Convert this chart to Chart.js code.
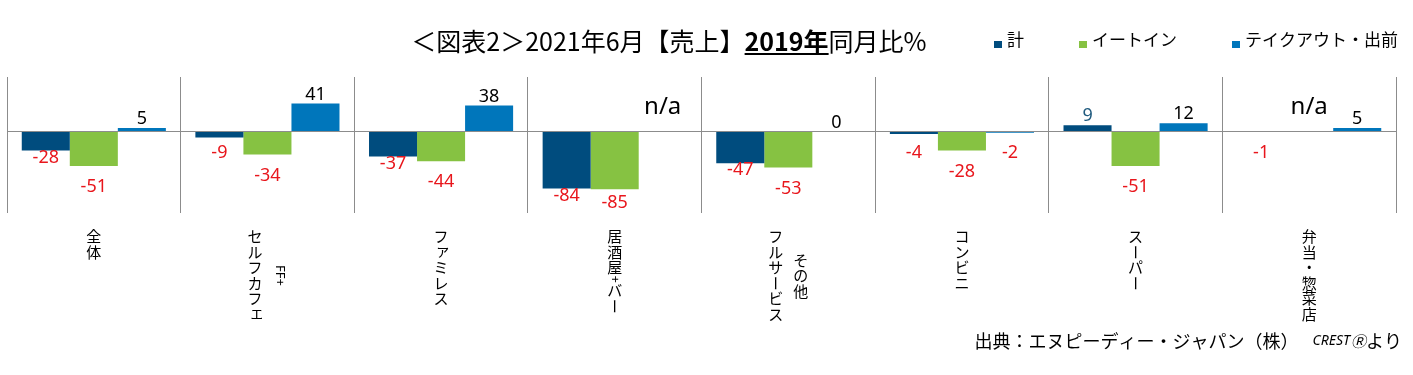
<!DOCTYPE html>
<html lang="ja">
<head>
<meta charset="utf-8">
<script src="https://cdn.jsdelivr.net/npm/chart.js@4.4.1/dist/chart.umd.min.js"></script>
<style>
  html, body { margin: 0; padding: 0; background: #fff; }
</style>
</head>
<body>
<canvas id="salesChart" width="1413" height="375"></canvas>
<script>
// data (n/a = null)
const categories = ["全体", "FF+\nセルフカフェ", "ファミレス", "居酒屋+バー", "その他\nフルサービス", "コンビニ", "スーパー", "弁当・惣菜店"];
const seriesNames = ["計", "イートイン", "テイクアウト・出前"];
const totalValues = [-28, -9, -37, -84, -47, -4, 9, -1];
const eatInValues = [-51, -34, -44, -85, -53, -28, -51, null];
const takeoutValues = [5, 41, 38, null, 0, -2, 12, 5];
const yRange = [-120, 80];
const titleParts = [
  { text: "＜図表2＞2021年6月【売上】" },
  { text: "2019年", bold: true, underline: true },
  { text: "同月比%" }
];
const sourceText = ["出典：エヌピーディー・ジャパン（株）", "CREST", "Ⓡ", "より"];

const colors = ["#004C7E", "#86C242", "#0076BB"];
const gridColor = "#8C8C8C";
const redLabel = "#E8161C";
const JP = '"Noto Sans CJK JP", "Noto Sans", sans-serif';
const LATIN = '"Noto Sans", sans-serif';

const smallKana = "ァィゥェォッャュョヮヵヶぁぃぅぇぉっゃゅょゎ";
const turnChars = "ー～〜";

// length of one vertical line of text
function verticalLength(ctx, line, size, adv) {
  let len = 0;
  let i = 0;
  while (i < line.length) {
    if (/[\x20-\x7e]/.test(line[i])) {
      let run = "";
      while (i < line.length && /[\x20-\x7e]/.test(line[i])) run += line[i++];
      ctx.font = Math.round(size * 0.85) + "px " + LATIN;
      len += ctx.measureText(run).width;
    } else {
      len += adv;
      i++;
    }
  }
  return len;
}

function drawVerticalLine(ctx, line, cx, top, size, adv) {
  let y = top;
  let i = 0;
  ctx.textAlign = "center";
  ctx.textBaseline = "middle";
  while (i < line.length) {
    const ch = line[i];
    if (/[\x20-\x7e]/.test(ch)) {
      // latin runs are turned sideways, like Excel stacked text
      let run = "";
      while (i < line.length && /[\x20-\x7e]/.test(line[i])) run += line[i++];
      ctx.font = Math.round(size * 0.85) + "px " + LATIN;
      const w = ctx.measureText(run).width;
      ctx.save();
      ctx.translate(cx, y + w / 2);
      ctx.rotate(Math.PI / 2);
      ctx.fillText(run, 0, 0);
      ctx.restore();
      y += w;
      continue;
    }
    ctx.font = size + "px " + JP;
    ctx.save();
    if (turnChars.includes(ch)) {
      ctx.translate(cx, y + adv / 2);
      ctx.rotate(Math.PI / 2);
      ctx.fillText(ch, 0, 0);
    } else if (smallKana.includes(ch)) {
      ctx.fillText(ch, cx + size * 0.12, y + adv / 2 - size * 0.12);
    } else {
      ctx.fillText(ch, cx, y + adv / 2);
    }
    ctx.restore();
    y += adv;
    i++;
  }
}

const categoryLabels = {
  id: "categoryLabels",
  afterDraw(chart) {
    const { ctx, chartArea, scales: { x } } = chart;
    const size = 15, adv = 15.5, pitch = 25;
    const top = chartArea.bottom + 16;
    ctx.save();
    ctx.fillStyle = "#000";
    categories.forEach((label, i) => {
      const cx = x.getPixelForValue(i);
      const lines = label.split("\n");
      const lens = lines.map(l => verticalLength(ctx, l, size, adv));
      const longest = Math.max(...lens);
      lines.forEach((line, j) => {
        // first line goes on the right
        const lx = cx + ((lines.length - 1) / 2 - j) * pitch;
        drawVerticalLine(ctx, line, lx, top + (longest - lens[j]) / 2, size, adv);
      });
    });
    ctx.restore();
  }
};

const barLabels = {
  id: "barLabels",
  afterDatasetsDraw(chart) {
    const { ctx, chartArea, scales: { y } } = chart;
    const zero = y.getPixelForValue(0);
    ctx.save();
    ctx.textAlign = "center";
    ctx.textBaseline = "middle";
    chart.data.datasets.forEach((ds, di) => {
      const meta = chart.getDatasetMeta(di);
      meta.data.forEach((bar, i) => {
        const v = ds.data[i];
        if (v === null) {
          ctx.font = "24px " + LATIN;
          ctx.fillStyle = "#000";
          ctx.fillText("n/a", bar.x, zero - 24);
          return;
        }
        const end = y.getPixelForValue(v);
        ctx.font = "18px " + LATIN;
        if (v < 0) {
          let ly = Math.max(end + ds.labelGap, zero + ds.labelMin);
          ly = Math.min(ly, chartArea.bottom - 10);
          ctx.fillStyle = redLabel;
          ctx.fillText(String(v), bar.x, ly);
        } else {
          ctx.fillStyle = ds.positiveColor;
          ctx.fillText(String(v), bar.x, end - 9);
        }
      });
    });
    ctx.restore();
  }
};

const headerText = {
  id: "headerText",
  afterDraw(chart) {
    const { ctx } = chart;
    ctx.save();
    ctx.fillStyle = "#000";
    ctx.textBaseline = "alphabetic";
    ctx.textAlign = "left";

    // title, mixed weights
    const tSize = 25;
    const fontOf = p => (p.bold ? "bold " : "") + tSize + "px " + JP;
    let total = 0;
    titleParts.forEach(p => { ctx.font = fontOf(p); total += ctx.measureText(p.text).width; });
    let tx = 669 - total / 2;
    const base = 51;
    titleParts.forEach(p => {
      ctx.font = fontOf(p);
      const w = ctx.measureText(p.text).width;
      ctx.fillText(p.text, tx, base);
      if (p.underline) ctx.fillRect(tx, base + 2, w, 2);
      tx += w;
    });

    // legend, right aligned
    ctx.font = "17px " + JP;
    ctx.textBaseline = "middle";
    const box = 8, boxGap = 5, itemGap = 55;
    const widths = seriesNames.map(n => box + boxGap + ctx.measureText(n).width);
    let lx = 1398 - widths.reduce((a, b) => a + b, 0) - itemGap * (seriesNames.length - 1);
    seriesNames.forEach((n, i) => {
      ctx.fillStyle = colors[i];
      ctx.fillRect(lx, 41, box, 7);
      ctx.fillStyle = "#000";
      ctx.fillText(n, lx + box + boxGap, 40);
      lx += widths[i] + itemGap;
    });

    // source line, right aligned
    const fonts = ["18px " + JP, "italic 14px " + LATIN, "italic 15px " + JP, "18px " + JP];
    const gaps = [14, 1, 0, 0];
    let sw = 0;
    sourceText.forEach((s, i) => { ctx.font = fonts[i]; sw += ctx.measureText(s).width + gaps[i]; });
    let sx = 1402 - sw;
    sourceText.forEach((s, i) => {
      ctx.font = fonts[i];
      ctx.fillText(s, sx, 341);
      sx += ctx.measureText(s).width + gaps[i];
    });
    ctx.restore();
  }
};

const seriesValues = [totalValues, eatInValues, takeoutValues];
const labelRules = [
  { labelGap: 7, labelMin: 21, positiveColor: "#1F5A7E" },
  { labelGap: 21, labelMin: 28, positiveColor: "#000" },
  { labelGap: 7, labelMin: 21, positiveColor: "#000" }
];

new Chart(document.getElementById("salesChart"), {
  type: "bar",
  data: {
    labels: categories,
    datasets: seriesNames.map((name, i) => ({
      label: name,
      data: seriesValues[i],
      backgroundColor: colors[i],
      borderWidth: 0,
      barPercentage: 1,
      categoryPercentage: 0.83,
      ...labelRules[i]
    }))
  },
  options: {
    responsive: false,
    animation: false,
    layout: { padding: { left: 7, right: 17, top: 77, bottom: 162 } },
    plugins: {
      legend: { display: false },
      title: { display: false },
      tooltip: { enabled: false }
    },
    scales: {
      x: {
        grid: { offset: true, color: gridColor, drawTicks: false },
        border: { display: false },
        ticks: { display: false },
        afterFit(scale) { scale.height = 0; }
      },
      y: {
        min: yRange[0],
        max: yRange[1],
        ticks: { display: false, stepSize: 20 },
        grid: {
          drawTicks: false,
          color: (c) => (c.tick && c.tick.value === 0 ? gridColor : "rgba(0,0,0,0)")
        },
        border: { display: false },
        afterFit(scale) { scale.width = 0; }
      }
    }
  },
  plugins: [barLabels, categoryLabels, headerText]
});
</script>
</body>
</html>
